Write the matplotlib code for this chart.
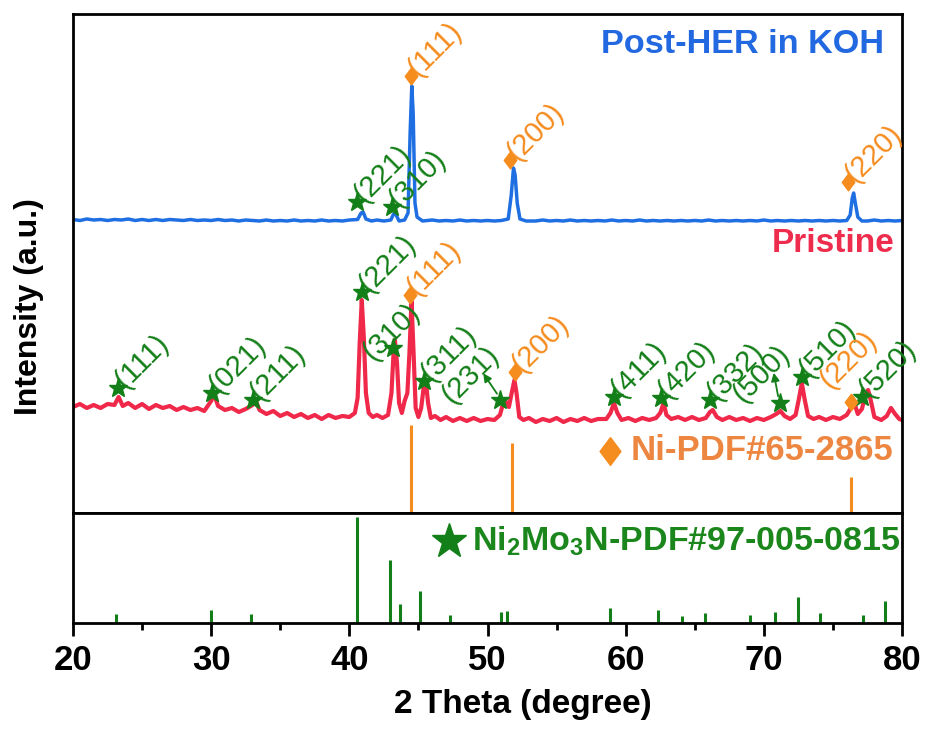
import matplotlib
matplotlib.use('Agg')
import matplotlib.pyplot as plt

plt.rcParams['font.family'] = ['Liberation Sans', 'DejaVu Sans']
plt.rcParams['mathtext.fontset'] = 'custom'
plt.rcParams['mathtext.bf'] = 'Liberation Sans:bold'
plt.rcParams['mathtext.default'] = 'bf'

# ---- data (intensity in arbitrary units) ----
post_x = [20, 20.5, 21, 21.5, 22, 22.5, 23, 23.5, 24, 24.5, 25, 25.5, 26, 26.5, 27, 27.5, 28, 28.5, 29, 29.5,
          30, 30.5, 31, 31.5, 32, 32.5, 33, 33.5, 34, 34.5, 35, 35.5, 36, 36.5, 37, 37.5, 38, 38.5, 39, 39.5,
          40, 40.6, 40.85, 41.0, 41.2, 41.6, 42, 42.5, 43, 43.2, 43.35, 43.6, 44.0, 44.25, 44.4, 44.52, 44.62,
          44.75, 44.9, 45.3, 46, 46.5, 47, 47.5, 48, 48.5, 49, 49.5, 50, 50.5, 51, 51.5, 51.72, 51.88, 52.0,
          52.15, 52.35, 52.8, 53.5, 54, 54.5, 55, 55.5, 56, 56.5, 57, 57.5, 58, 58.5, 59, 59.5, 60, 60.5, 61,
          61.5, 62, 62.5, 63, 63.5, 64, 64.5, 65, 65.5, 66, 66.5, 67, 67.5, 68, 68.5, 69, 69.5, 70, 70.5, 71,
          71.5, 72, 72.5, 73, 73.5, 74, 74.5, 75, 75.5, 76, 76.25, 76.4, 76.5, 76.62, 76.8, 77.1, 77.5, 78,
          78.5, 79, 79.5, 80]
post_y = [293.5, 292.5, 294, 293, 293.5, 292.5, 293.5, 293, 294, 292.5, 293.5, 292.5, 293.5, 292.5, 293.5, 293, 292.5, 293.5, 292.5, 293,
          292.5, 293.5, 292.5, 293, 292, 293, 292.5, 292, 293, 292, 292.5, 292, 293, 292, 292.5, 292, 293, 292, 292.5, 292,
          293, 293.5, 300, 301, 294, 292, 293, 292, 293, 299, 299, 292, 293, 300, 380, 427, 400,
          310, 296, 292, 293, 292, 292.5, 292, 293, 292, 292.5, 292, 292.5, 292, 292.5, 294, 318, 345, 338,
          310, 294, 292, 292, 293, 292, 292.5, 292, 293, 292, 292.5, 292, 292.5, 292, 293, 292, 292.5, 292, 293,
          292, 292.5, 292, 292.5, 292, 292.5, 292, 292.5, 292, 293, 292, 292.5, 292, 292.5, 292, 292.5, 292, 293, 292, 292.5,
          292, 292.5, 292, 292.5, 292, 292.5, 292, 292.5, 292, 292.5, 298, 315, 320, 310, 296, 292, 292, 293,
          292, 292.5, 292, 292.5]

pris_x = [20, 20.5, 21, 21.5, 22, 22.5, 23, 23.3, 23.6, 24, 24.5, 25, 25.5, 26, 26.5, 27, 27.5, 28, 28.5, 29,
          29.5, 30, 30.2, 30.5, 31, 31.5, 32, 32.5, 33, 33.2, 33.5, 34, 34.5, 35, 35.5, 36, 36.5, 37, 37.5, 38,
          38.5, 39, 39.5, 40, 40.4, 40.6, 40.75, 40.9, 41.05, 41.2, 41.4, 41.7, 42, 42.4, 42.8, 43.05, 43.2,
          43.3, 43.45, 43.6, 43.8, 44.0, 44.2, 44.35, 44.5, 44.65, 44.8, 45.0, 45.2, 45.4, 45.55, 45.7, 45.9,
          46.2, 46.6, 47, 47.5, 48, 48.5, 49, 49.5, 50, 50.5, 50.9, 51.1, 51.3, 51.55, 51.75, 51.95, 52.1,
          52.3, 52.6, 53, 53.5, 54, 54.5, 55, 55.5, 56, 56.5, 57, 57.5, 58, 58.6, 58.9, 59.15, 59.4, 59.7,
          60.2, 60.7, 61.2, 61.7, 62.2, 62.5, 62.75, 62.95, 63.3, 63.8, 64.3, 64.8, 65.3, 65.8, 66.1, 66.3,
          66.6, 67, 67.5, 68, 68.5, 69, 69.5, 70, 70.5, 70.9, 71.2, 71.5, 71.9, 72.3, 72.55, 72.75, 72.95,
          73.2, 73.6, 74, 74.5, 75, 75.5, 76, 76.3, 76.55, 76.8, 77.1, 77.35, 77.55, 77.75, 78, 78.5, 78.9,
          79.2, 79.5, 79.8, 80]
pris_y = [106, 109, 105, 108, 105, 109, 108, 116, 107, 110, 105, 109, 104, 108, 105, 107, 103, 106, 103, 105,
          102, 112, 119, 107, 103, 105, 101, 104, 108, 113, 103, 99, 102, 97, 100, 96, 99, 95, 98, 94,
          98, 95, 97, 96, 100, 115, 170, 213, 175, 120, 100, 96, 98, 95, 98, 120, 160,
          173, 150, 110, 100, 112, 120, 160, 212, 160, 105, 96, 105, 128, 130, 110, 95,
          97, 93, 96, 92, 95, 92, 95, 92, 94, 93, 98, 108, 112, 106, 120, 133, 120,
          96, 93, 95, 91, 94, 92, 95, 91, 94, 92, 95, 92, 94, 94, 100, 110, 100, 93,
          95, 92, 95, 93, 95, 100, 110, 98, 94, 96, 93, 96, 93, 95, 101, 103,
          96, 93, 96, 93, 95, 92, 95, 93, 96, 99, 102, 97, 94, 98, 115, 130, 114,
          97, 94, 96, 93, 96, 94, 98, 105, 110, 99, 104, 118, 123, 112, 96, 93, 97,
          105, 99, 94, 93]

# Ni reference (PDF#65-2865)
ni_pos = [44.45, 51.8, 76.3]
ni_int = [88, 70, 36]

# Ni2Mo3N reference (PDF#97-005-0815), relative intensity
nmn_pos = [23.1, 30.0, 32.9, 40.55, 42.95, 43.65, 45.15, 47.3, 50.95, 51.4,
           58.85, 62.35, 64.05, 65.75, 69.0, 70.8, 72.45, 74.05, 77.2, 78.8]
nmn_int = [8.5, 12.6, 8.5, 100, 59.7, 17.9, 29.9, 7.5, 10, 11.6,
           14.2, 12.6, 6.9, 9.4, 7.2, 10, 24.5, 9.4, 7.9, 20.4]

# peak labels: text, marker x, marker y, phase ('s' = Ni2Mo3N star, 'd' = Ni diamond)
post_hkl = ['(221)', '(310)', '(111)', '(200)', '(220)']
post_hkl_x = [40.53, 43.07, 44.44, 51.63, 76.10]
post_hkl_y = [311, 306, 437, 353, 331]
post_hkl_ph = ['s', 's', 'd', 'd', 'd']

pris_hkl = ['(111)', '(021)', '(211)', '(221)', '(111)', '(311)', '(200)', '(411)', '(420)', '(332)', '(510)', '(520)']
pris_hkl_x = [23.24, 30.04, 33.05, 40.89, 44.39, 45.40, 51.99, 59.15, 62.53, 66.10, 72.74, 77.10]
pris_hkl_y = [125, 120, 113, 221, 218, 132, 141, 116, 115, 113, 136, 116]
pris_hkl_ph = ['s', 's', 's', 's', 'd', 's', 'd', 's', 's', 's', 's', 's']

# labels placed away from their marker (text centre given separately)
side_hkl = ['(310)', '(231)', '(500)', '(220)']
side_mark_x = [43.16, 50.90, 71.17, 76.29]
side_mark_y = [165, 113, 110, 111]
side_text_x = [43.05, 48.73, 69.83, 76.13]
side_text_y = [181, 138, 139, 153]
side_ph = ['s', 's', 's', 'd']
side_arrow = [False, True, True, False]

blue = '#1f6fe3'
red = '#f0284a'
orange = '#f58c1e'
green = '#137f18'

diamond = [(0, 1), (0.75, 0), (0, -1), (-0.75, 0), (0, 1)]

fig = plt.figure(figsize=(9.3, 7.29), dpi=100)
ax1 = fig.add_axes([73 / 930, (729 - 513) / 729, 829 / 930, 499 / 729])
ax2 = fig.add_axes([73 / 930, (729 - 623) / 729, 829 / 930, 110 / 729])

ax1.plot(post_x, post_y, color=blue, lw=2.5)
ax1.plot(pris_x, pris_y, color=red, lw=3)
ax1.vlines(ni_pos, 0, ni_int, color=orange, lw=2.2)


def mark(ax, x, y, ph):
    col = green if ph == 's' else orange
    if ph == 's':
        ax.plot(x, y, marker='*', ms=14, color=col, ls='none', zorder=5)
    else:
        ax.plot(x, y, marker=diamond, ms=12, color=col, ls='none', zorder=5)
    return col


for hkl, xs, ys, phs in [(post_hkl, post_hkl_x, post_hkl_y, post_hkl_ph),
                         (pris_hkl, pris_hkl_x, pris_hkl_y, pris_hkl_ph)]:
    for t, x, y, ph in zip(hkl, xs, ys, phs):
        col = mark(ax1, x, y, ph)
        ax1.annotate(t, (x, y), xytext=(1, 3), textcoords='offset points', rotation=45,
                     rotation_mode='anchor', ha='left', va='center', fontsize=21, color=col)

for t, mx, my, tx, ty, ph, arr in zip(side_hkl, side_mark_x, side_mark_y, side_text_x, side_text_y,
                                      side_ph, side_arrow):
    col = mark(ax1, mx, my, ph)
    ax1.text(tx, ty, t, rotation=45, rotation_mode='anchor', ha='center', va='center',
             fontsize=21, color=col)
    if arr:
        ax1.annotate('', xy=(tx + 0.85, ty + 4), xytext=(mx - 0.1, my + 4),
                     arrowprops=dict(arrowstyle='-|>', color=green, lw=1.3, mutation_scale=12))

ax1.text(0.978, 0.938, 'Post-HER in KOH', transform=ax1.transAxes, ha='right', va='center',
         fontsize=24.7, fontweight='bold', color='#2268e0')
ax1.text(0.9915, 0.541, 'Pristine', transform=ax1.transAxes, ha='right', va='center',
         fontsize=24, fontweight='bold', color='#ee2d4e')
ax1.plot(0.648, 0.125, marker=diamond, ms=20, color=orange, transform=ax1.transAxes)
ax1.text(0.989, 0.126, 'Ni-PDF#65-2865', transform=ax1.transAxes, ha='right', va='center',
         fontsize=25, fontweight='bold', color='#ec8640')

ax1.set_xlim(20, 80)
ax1.set_ylim(0, 499)
ax1.set_xticks([])
ax1.set_yticks([])

ax2.vlines(nmn_pos, 0, nmn_int, color=green, lw=2.2)
ax2.plot(0.454, 0.745, marker='*', ms=26, color=green, transform=ax2.transAxes)
ax2.text(0.998, 0.745, r'Ni$_2$Mo$_3$N-PDF#97-005-0815', transform=ax2.transAxes, ha='right',
         va='center', fontsize=24.5, fontweight='bold', color='#1a861c')
ax2.set_xlim(20, 80)
ax2.set_ylim(0, 103.8)
ax2.set_yticks([])
ax2.set_xticks(range(20, 81, 10))
ax2.set_xticks(range(25, 80, 10), minor=True)
ax2.tick_params(axis='x', which='major', direction='out', length=9, width=2, pad=6,
                labelsize=25)
ax2.tick_params(axis='x', which='minor', direction='out', length=5, width=2)
for lab in ax2.get_xticklabels():
    lab.set_fontweight('bold')

for ax in (ax1, ax2):
    for sp in ax.spines.values():
        sp.set_linewidth(2)

fig.text(523 / 930, 1 - 704 / 729, '2 Theta (degree)', ha='center', va='center',
         fontsize=24, fontweight='bold')
fig.text(29 / 930, 1 - 307 / 729, 'Intensity (a.u.)', rotation=90, ha='center', va='center',
         fontsize=23, fontweight='bold')

fig.savefig('out.png', dpi=100)
